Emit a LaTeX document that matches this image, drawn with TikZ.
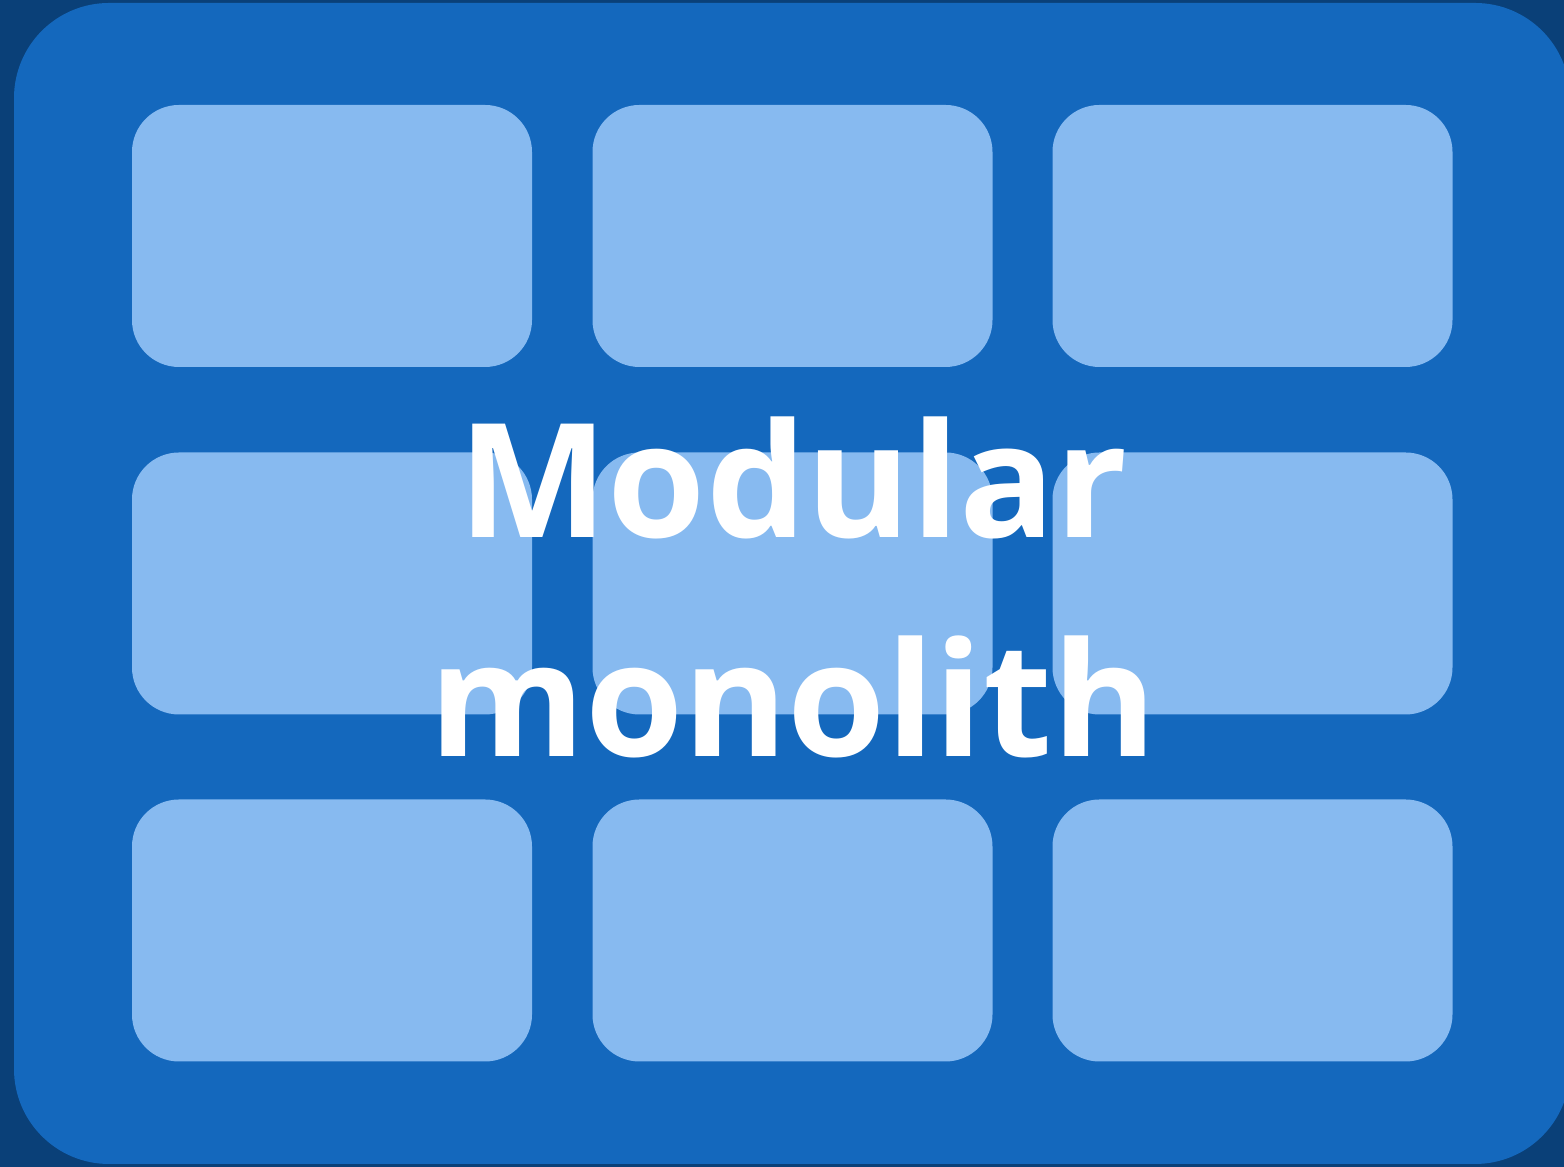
\documentclass[tikz,border=0pt]{standalone}
\usepackage{fontspec}
\setmainfont{Open Sans}
\definecolor{pagebg}{HTML}{0A4078}
\definecolor{framebl}{HTML}{1468BD}
\definecolor{tilebl}{HTML}{87BAF0}
\tikzset{
  tile/.style={fill=tilebl, draw=none, rounded corners=0.47cm,
    minimum width=4.0cm, minimum height=2.62cm, inner sep=0pt},
  title/.style={text=white, font=\bfseries\fontsize{45.2pt}{62.3pt}\selectfont,
    align=center, inner sep=0pt}
}
\begin{document}
\begin{tikzpicture}
  % page and frame
  \fill[pagebg] (0,0) rectangle (15.64,11.67);
  \useasboundingbox (0,0) rectangle (15.64,11.67);
  \begin{scope}
    \clip (0,0) rectangle (15.64,11.67);
    \fill[framebl, rounded corners=0.95cm] (0.14,0.03) rectangle (15.70,11.64);
  \end{scope}
  % top row
  \node[tile] (m11) at (3.32,9.31) {};
  \node[tile] (m12) at (7.925,9.31) {};
  \node[tile] (m13) at (12.525,9.31) {};
  % middle row
  \node[tile] (m21) at (3.32,5.835) {};
  \node[tile] (m22) at (7.925,5.835) {};
  \node[tile] (m23) at (12.525,5.835) {};
  % bottom row
  \node[tile] (m31) at (3.32,2.365) {};
  \node[tile] (m32) at (7.925,2.365) {};
  \node[tile] (m33) at (12.525,2.365) {};
  % title over the grid
  \node[title] (name) at (7.93,5.80) {Modular\\monolith};
\end{tikzpicture}
\end{document}
